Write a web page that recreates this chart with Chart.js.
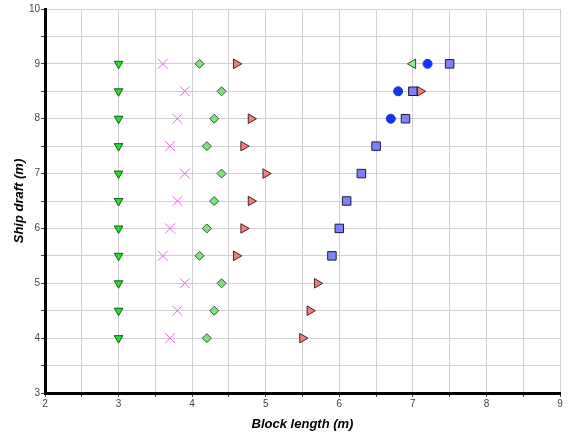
<!DOCTYPE html>
<html lang="en">
<head>
    <meta charset="UTF-8">
    <title>Ship draft vs block length</title>
    <script src="https://cdn.jsdelivr.net/npm/chart.js"></script>
    <style>
        body { margin: 0; background: #fff; }
        #wrap { width: 568px; height: 439px; }
    </style>
</head>
<body>
    <div id="wrap"><canvas id="chart"></canvas></div>
    <script>
        // drafts shared by the long series
        const drafts = [9, 8.5, 8, 7.5, 7, 6.5, 6, 5.5, 5, 4.5, 4];

        const downTriX = [3, 3, 3, 3, 3, 3, 3, 3, 3, 3, 3];
        const crossX = [3.6, 3.9, 3.8, 3.7, 3.9, 3.8, 3.7, 3.6, 3.9, 3.8, 3.7];
        const diamondX = [4.1, 4.4, 4.3, 4.2, 4.4, 4.3, 4.2, 4.1, 4.4, 4.3, 4.2];
        const rightTriX = [4.6, 7.1, 4.8, 4.7, 5.0, 4.8, 4.7, 4.6, 5.7, 5.6, 5.5];

        const squareDrafts = [9, 8.5, 8, 7.5, 7, 6.5, 6, 5.5];
        const squareX = [7.5, 7.0, 6.9, 6.5, 6.3, 6.1, 6.0, 5.9];

        const circleDrafts = [9, 8.5, 8];
        const circleX = [7.2, 6.8, 6.7];

        const leftTriDrafts = [9];
        const leftTriX = [7.0];

        const pts = (xs, ys) => xs.map((x, i) => ({ x: x, y: ys[i] }));

        const ctx = document.getElementById('chart').getContext('2d');
        new Chart(ctx, {
            type: 'scatter',
            data: {
                datasets: [
                    {
                        data: pts(downTriX, drafts),
                        pointStyle: 'triangle', rotation: 180, pointRadius: 5,
                        backgroundColor: '#22e022', borderColor: '#1a5a1a', borderWidth: 1
                    },
                    {
                        data: pts(crossX, drafts),
                        pointStyle: 'crossRot', pointRadius: 7,
                        borderColor: '#ff55ff', borderWidth: 1
                    },
                    {
                        data: pts(diamondX, drafts),
                        pointStyle: 'rectRot', pointRadius: 4.5,
                        backgroundColor: '#7fe07f', borderColor: '#2f5a2f', borderWidth: 1
                    },
                    {
                        data: pts(rightTriX, drafts),
                        pointStyle: 'triangle', rotation: 90, pointRadius: 5.5,
                        backgroundColor: '#f08080', borderColor: '#4a2020', borderWidth: 1
                    },
                    {
                        data: pts(squareX, squareDrafts),
                        pointStyle: 'rect', pointRadius: 6,
                        backgroundColor: '#8080ff', borderColor: '#1a1a3a', borderWidth: 1
                    },
                    {
                        data: pts(circleX, circleDrafts),
                        pointStyle: 'circle', pointRadius: 4.5,
                        backgroundColor: '#1535f0', borderColor: '#1535f0', borderWidth: 1
                    },
                    {
                        data: pts(leftTriX, leftTriDrafts),
                        pointStyle: 'triangle', rotation: -90, pointRadius: 5.5,
                        backgroundColor: '#90ee90', borderColor: '#2f4a2f', borderWidth: 1
                    }
                ]
            },
            options: {
                responsive: true,
                maintainAspectRatio: false,
                animation: false,
                layout: { padding: { top: 9, right: 0, left: 0, bottom: 0 } },
                plugins: {
                    legend: { display: false },
                    tooltip: { enabled: false }
                },
                scales: {
                    x: {
                        min: 2, max: 9,
                        afterFit: s => { s.height = 46; s.paddingRight = 1; },
                        border: { color: '#000', width: 3 },
                        grid: { color: '#d0d0d0', tickColor: '#444', tickLength: 4 },
                        ticks: {
                            stepSize: 0.5, autoSkip: false, maxRotation: 0,
                            color: '#444', font: { family: 'Arial', size: 10 }, padding: 1,
                            callback: v => Number.isInteger(v) ? v : ''
                        },
                        title: {
                            display: true, text: 'Block length (m)', color: '#000',
                            font: { family: 'Arial', size: 13, weight: 'bold', style: 'italic' },
                            padding: { top: 1, bottom: 7 }
                        }
                    },
                    y: {
                        min: 3, max: 10,
                        afterFit: s => { s.width = 45; },
                        border: { color: '#000', width: 3 },
                        grid: { color: '#d0d0d0', tickColor: '#444', tickLength: 4 },
                        ticks: {
                            stepSize: 0.5, autoSkip: false,
                            color: '#444', font: { family: 'Arial', size: 10 }, padding: 1,
                            callback: v => Number.isInteger(v) ? v : ''
                        },
                        title: {
                            display: true, text: 'Ship draft (m)', color: '#000',
                            font: { family: 'Arial', size: 13, weight: 'bold', style: 'italic' },
                            padding: { top: 12, bottom: 0 }
                        }
                    }
                }
            }
        });
    </script>
</body>
</html>
